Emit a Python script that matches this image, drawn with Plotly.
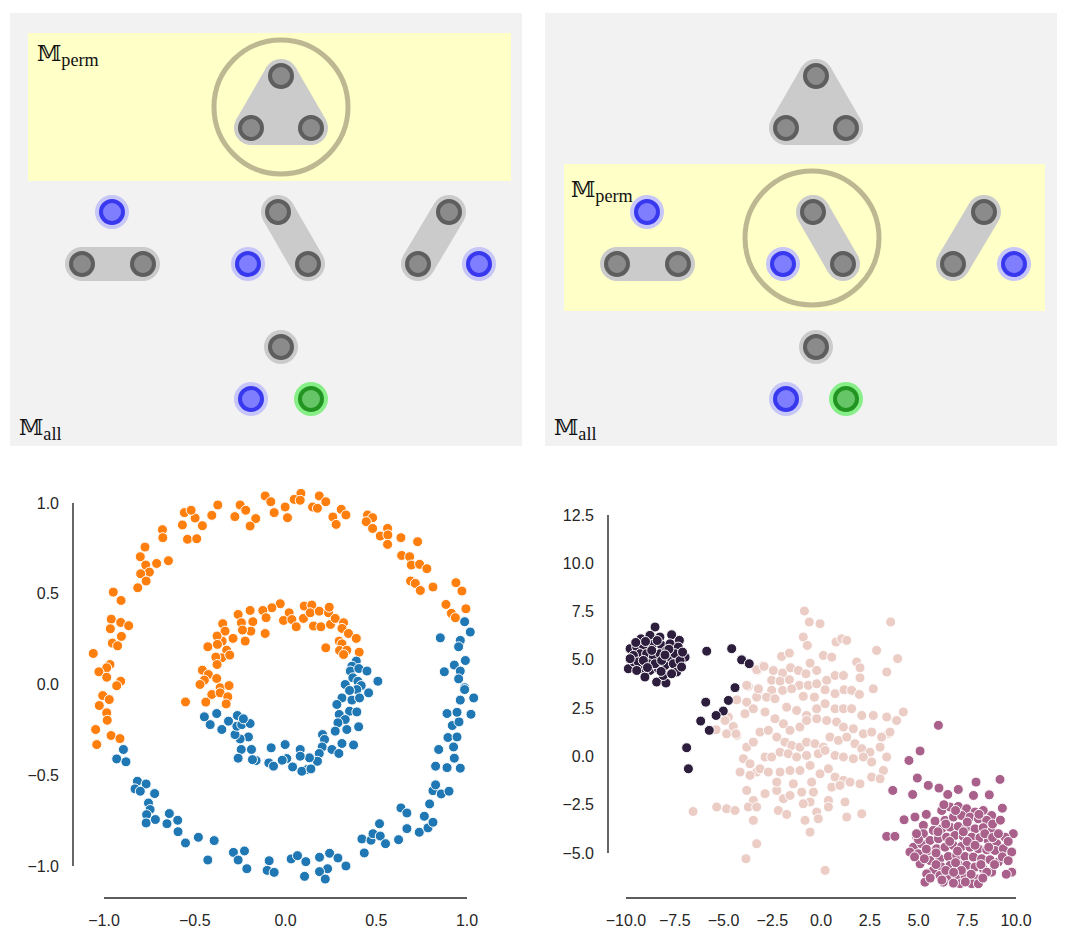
import plotly.graph_objects as go

# the page adds an 8 px body margin; the figure is sized so the page is exactly 1066 x 950
OFF = 8
W, H = 1066 - 2 * OFF, 950 - 2 * OFF

# ---------------- top diagrams (local units = pixels of a 512 x 433 panel) ----------------
gray_x = [271, 241, 301, 72, 133, 268, 298, 439, 408, 271]
gray_y = [63, 115, 115, 251, 251, 199, 251, 199, 251, 334]
groups = [[0, 1, 2], [3, 4], [5, 6], [7, 8], [9]]
blue_x = [102, 238, 469, 241]
blue_y = [199, 251, 251, 386]
green_x = [301]
green_y = [386]

# highlighted "perm" band and selection circle for each panel
perm_x0 = [18, 19]
perm_x1 = [501, 500]
perm_y0 = [20, 151]
perm_y1 = [168, 298]
circ_x = [271, 267]
circ_y = [94, 225]
circ_r = [67, 67]
perm_label_xy = [(25, 26), (24, 162)]
all_label_xy = [(7, 400), (7, 400)]

# ---------------- bottom-left: concentric circles ----------------
orange_x = [-0.112, -0.081, 0.085, 0.048, 0.081, 0.186, 0.222, 0.149, 0.176, -0.002, -0.0625, 0.011,
            -0.25, -0.219, -0.279, -0.164, -0.195, -0.373, -0.406, -0.458, -0.498, -0.557, -0.52, -0.568,
            -0.54, -0.489, -0.678, -0.676, -0.774, -0.8, -0.77, -0.71, -0.75, -0.798, -0.645, -0.768,
            -0.814, -0.949, -0.906, -0.96, -0.908, -0.864, -0.965, -0.904, -0.954, -0.925, -1.059, -0.967,
            -0.985, -1.028, -0.985, -0.908, -0.93, -1.007, -0.971, -1.026, -0.985, -0.982, -1.046, -0.961,
            -0.912, -1.04,
            0.307, 0.333, 0.261, 0.279, 0.452, 0.48, 0.445, 0.48, 0.5625, 0.522, 0.564, 0.5625, 0.636,
            0.728, 0.64, 0.684, 0.693, 0.739, 0.779, 0.689, 0.715, 0.743, 0.8125, 0.939, 0.972, 0.884,
            0.994, 0.914, 0.936,
            -0.029, -0.075, -0.125, -0.107, -0.195, -0.261, -0.243, -0.18, -0.191, -0.237, -0.222, -0.112,
            -0.346, -0.333, -0.289, -0.349, -0.377, -0.428, -0.375, -0.324, -0.351, -0.384, -0.307, -0.377,
            -0.458, -0.425, -0.447, -0.379, -0.471, -0.36, 0.02, -0.011, 0.035, 0.059, 0.099, 0.103, 0.145,
            0.136, 0.186, 0.237, 0.241, 0.154, 0.195, 0.248, 0.274, 0.32, 0.311, 0.347, 0.39, 0.296, 0.222,
            0.311, 0.298, 0.338, 0.406, 0.32, -0.311, -0.406, -0.36, -0.318, -0.439, -0.327, -0.551]
orange_y = [1.039, 1.007, 1.053, 1.02, 1.015, 1.039, 1.007, 0.978, 0.971, 0.978, 0.947, 0.919,
            0.989, 0.96, 0.925, 0.914, 0.873, 0.989, 0.932, 0.875, 0.917, 0.947, 0.96, 0.879,
            0.8, 0.803, 0.853, 0.809, 0.757, 0.704, 0.658, 0.667, 0.619, 0.61, 0.682, 0.57,
            0.533, 0.509, 0.463, 0.36, 0.342, 0.324, 0.307, 0.265, 0.228, 0.213, 0.171, 0.11,
            0.092, 0.07, 0.04, 0.018, -0.007, -0.061, -0.083, -0.116, -0.156, -0.197, -0.248, -0.281,
            -0.298, -0.331,
            0.965, 0.934, 0.923, 0.882, 0.934, 0.919, 0.897, 0.86, 0.86, 0.818, 0.824, 0.772, 0.809,
            0.787, 0.711, 0.704, 0.658, 0.662, 0.638, 0.57, 0.557, 0.518, 0.537, 0.561, 0.515, 0.441,
            0.417, 0.392, 0.368,
            0.445, 0.423, 0.408, 0.368, 0.408, 0.386, 0.34, 0.346, 0.294, 0.3, 0.239, 0.281,
            0.335, 0.294, 0.254, 0.239, 0.267, 0.208, 0.221, 0.189, 0.147, 0.151, 0.162, 0.11,
            0.079, 0.055, 0.024, 0.033, 0.0, -0.018, 0.395, 0.353, 0.358, 0.318, 0.364, 0.432, 0.4375,
            0.395, 0.404, 0.395, 0.426, 0.322, 0.318, 0.331, 0.364, 0.34, 0.309, 0.281, 0.254, 0.239, 0.202,
            0.224, 0.1875, 0.189, 0.178, 0.165, -0.006, -0.055, -0.046, -0.068, -0.097, -0.107, -0.096]

blue_pts_x = [0.987, 1.018, 0.853, 0.963, 0.954, 0.991, 0.93, 0.963, 0.875, 0.954, 0.987,
              0.39, 0.366, 0.357, 0.404, 0.449, 0.371, 0.399, 0.509, 0.329, 0.417,
              0.393, 0.458, 0.353, 0.311, 0.366, 0.408, 0.283, 0.296, 0.353, 0.393, 0.329, 0.289, 0.338,
              0.274, 0.403, 0.204, 0.215, 0.202, 0.256, 0.294, 0.311, 0.375, 0.186, 0.176, 0.132, 0.081,
              0.081, 0.118, 0.09, 0.14, 0.039, 0.007, -0.002, -0.018, -0.079, -0.092, -0.066, -0.162,
              -0.1875, -0.244, -0.261, -0.182, -0.204, -0.25, -0.278, -0.268, -0.241, -0.195, -0.265,
              -0.232, -0.314, -0.351, -0.379, -0.415, -0.447,
              -0.893, -0.93, -0.879, -0.816, -0.768, -0.829, -0.8, -0.721, -0.755, -0.746, -0.765, -0.717,
              -0.768, -0.64, -0.594, -0.653, -0.592, -0.551, -0.48, -0.393, -0.428, -0.287, -0.226, -0.261,
              -0.213, -0.09, -0.101, -0.0625, 0.031, 0.066, 0.112, 0.105, 0.1875, 0.243, 0.289, 0.232,
              0.1875, 0.219, 0.333, 0.421, 0.434, 0.471, 0.482, 0.518, 0.522, 0.551, 0.623, 0.636, 0.669,
              0.669, 0.737, 0.765, 0.785, 0.8125, 0.794, 0.8125, 0.827, 0.858, 0.901, 0.827, 0.89, 0.963,
              0.93, 0.844, 0.926, 0.895, 0.945, 0.919, 0.956, 0.89, 0.945, 1.022, 0.963, 1.037, 0.987]
blue_pts_y = [0.346, 0.289, 0.257, 0.243, 0.208, 0.132, 0.107, 0.074, 0.07, 0.031, -0.018,
              0.129, 0.101, 0.074, 0.088, 0.074, 0.037, 0.018, 0.018, 0.0, -0.006,
              -0.028, -0.046, -0.033, -0.074, -0.086, -0.074, -0.11, -0.165, -0.147, -0.151, -0.193,
              -0.211, -0.248, -0.257, -0.233, -0.276, -0.303, -0.344, -0.358, -0.38, -0.325, -0.333,
              -0.38, -0.423, -0.404, -0.358, -0.395, -0.469, -0.478, -0.465, -0.454, -0.408, -0.331,
              -0.417, -0.349, -0.432, -0.45, -0.419, -0.358, -0.358, -0.406, -0.414, -0.289, -0.3,
              -0.276, -0.23, -0.221, -0.215, -0.171, -0.189, -0.202, -0.248, -0.16, -0.221, -0.178,
              -0.358, -0.41, -0.426, -0.533, -0.548, -0.575, -0.588, -0.601, -0.653, -0.689, -0.717, -0.744,
              -0.763, -0.711, -0.748, -0.767, -0.811, -0.873, -0.842, -0.86, -0.967, -0.925, -0.917, -0.967,
              -1.015, -0.971, -1.024, -1.035, -0.961, -0.943, -0.976, -1.057, -0.952, -0.93, -0.956, -1.015,
              -1.031, -1.072, -1.0, -0.851, -0.928, -0.858, -0.822, -0.767, -0.835, -0.877, -0.855, -0.68,
              -0.708, -0.794, -0.814, -0.726, -0.79, -0.759, -0.658, -0.585, -0.553, -0.603, -0.588, -0.45,
              -0.458, -0.461, -0.406, -0.358, -0.344, -0.292, -0.289, -0.226, -0.206, -0.16, -0.153, -0.164,
              -0.086, -0.074, -0.028]

# ---------------- bottom-right: three blobs ----------------
dark_x = [-8.51, -9.23, -8.77, -8.26, -7.66, -7.26, -9.79, -9.45, -9.11, -8.63, -8.17, -7.74, -7.32,
          -6.97, -9.88, -9.59, -9.28, -8.94, -8.6, -8.26, -7.83, -7.49, -9.62, -9.2, -8.77, -8.34, -8.0,
          -7.57, -7.23, -7.4, -8.43, -7.95, -8.09, -8.85, -8.51, -9.37, -7.66, -9.79, -9.11, -8.17, -7.15,
          -8.68, -7.91, -9.03, -9.45, -8.4, -9.0, -7.8, -8.2, -9.5, -7.1, -8.9, -8.0,
          -5.86, -4.58, -4.07, -3.68, -4.41, -4.75, -5.91, -5.01, -5.38, -6.17, -5.73, -6.89, -6.8]
dark_y = [6.7, 6.09, 6.27, 6.18, 6.3, 6.01, 5.58, 5.66, 5.75, 5.8, 5.75, 5.83, 5.66,
          5.14, 4.54, 4.89, 5.32, 5.32, 5.14, 5.32, 5.14, 5.32, 5.23, 4.54, 4.45, 4.54, 4.71,
          4.8, 4.97, 4.37, 3.85, 3.8, 4.19, 4.8, 4.8, 4.89, 4.28, 5.06, 4.97, 4.97, 4.63,
          5.49, 5.49, 4.11, 4.45, 6.0, 5.95, 5.55, 4.4, 5.9, 5.4, 4.6, 5.25,
          5.45, 5.58, 5.0, 4.8, 3.56, 2.9, 2.81, 2.35, 2.12, 1.83, 1.35, 0.45, -0.64]

light_x = [-0.85, -0.6, -0.05, 3.57, -0.91, -0.7, 0.77, 1.06, 1.32, 2.85, 3.93, -2.02, -1.62, 0.12, 0.55,
           -0.56, 1.83, 2.0, 3.37, -2.96, -3.26, -2.44, -1.97, -1.56, -1.16, -0.77, -0.22, 0.29, 0.72, 1.15,
           2.0, -2.53, -2.1, -1.62, -1.11, -0.65, -0.22, -3.73, -3.21, -2.53, -1.97, -1.5, -0.91, -0.34, 0.21,
           0.72, 1.18, 1.57, 1.97, 2.68, -3.81, -3.3, -2.79, -2.36, -1.76, -1.25, -0.74, -0.22, 0.21, 0.72,
           1.15, 1.57, 2.09, 2.68, 3.37, 3.88, 4.22, 3.45, -4.75, -4.5, -3.47, -2.87, -2.36, -1.93, -1.59,
           -1.08, -0.74, -0.22, 0.29, 0.8, 1.15, 1.66, 2.17, 2.6, 3.11, 3.54, -4.84, -4.32, -3.81, -3.47,
           -3.13, -2.7, -2.27, -1.85, -1.5, -1.08, -0.74, -0.31, 0.12, 0.46, 0.89, 1.32, 1.74, 2.09, 2.51,
           3.03, 3.37, -3.98, -3.64, -3.3, -2.87, -2.53, -2.1, -1.68, -1.25, -0.74, -0.14, 0.21, 0.72, 1.15,
           1.66, 2.17, 2.6, 3.2, -4.15, -3.64, -3.13, -2.7, -2.1, -1.59, -1.08, -0.56, -0.05, 0.38, 0.72,
           1.15, 1.49, 2.0, 2.6, 3.03, -3.81, -3.47, -2.87, -2.27, -1.93, -1.59, -0.99, -0.56, -0.39, 0.38,
           0.55, 0.97, 1.23, -5.35, -4.84, -4.41, -3.73, -3.3, -2.19, -1.76, -0.91, -0.22, 0.38, 1.32, 2.09,
           -0.82, -0.14, -3.47, -0.56, -3.3, -3.85, 0.21, -1.42, -2.27, -0.48,
           -3.81, -3.21, -4.32, -3.9, -4.92, -5.38, -4.36, -3.3, -2.92, -6.56]
light_y = [7.53, 6.96, 6.87, 6.96, 6.18, 5.75, 5.92, 6.09, 6.01, 5.49, 5.06, 5.18, 5.35, 5.23, 5.14,
           4.83, 4.89, 4.59, 4.37, 4.71, 4.45, 4.45, 4.32, 4.59, 4.45, 4.28, 4.45, 3.94, 4.19, 4.19,
           4.07, 3.94, 3.9, 3.97, 3.68, 3.68, 3.76, 3.63, 3.42, 3.42, 3.42, 3.5, 3.11, 3.07, 3.45,
           3.25, 3.45, 3.42, 3.21, 3.5, 2.81, 3.07, 3.07, 2.99, 2.55, 2.38, 2.12, 2.47, 2.73, 2.47,
           2.47, 2.47, 2.12, 2.12, 2.04, 1.86, 2.3, 1.17, 2.04, 1.55, 2.47, 2.3, 1.95, 1.69, 1.35,
           1.52, 1.86, 1.95, 1.86, 1.78, 1.52, 1.43, 1.17, 1.26, 1.0, 1.26, 1.17, 1.09, 0.48, 0.74,
           1.26, 1.35, 1.0, 0.74, 0.57, 0.48, 0.74, 0.66, 0.48, 1.0, 0.83, 1.0, 0.66, 0.4, 0.22,
           0.48, -0.03, -0.12, -0.38, -0.81, -0.03, -0.03, 0.22, 0.14, -0.03, 0.05, 0.14, 0.31, 0.05, -0.03,
           -0.12, -0.03, -0.29, -0.73, -0.81, -0.98, -0.64, -0.81, -0.81, -0.73, -0.73, -0.47, -0.9, -0.64, -1.07,
           -1.24, -1.33, -1.42, -1.07, -1.16, -1.76, -2.28, -1.93, -1.76, -2.19, -2.02, -1.85, -2.36, -1.85, -2.28,
           -1.59, -1.5, -2.36, -2.62, -2.71, -2.8, -2.62, -2.62, -2.8, -3.0, -2.45, -2.88, -2.62, -3.14, -2.97,
           -3.31, -3.23, -3.31, -3.92, -4.52, -5.3, -5.9, -1.42, -1.33, -1.33,
           3.68, 3.5, 2.93, 2.21, 1.86, 1.38, 1.17, 4.49, 4.66, -2.85]

mid_x = [6.02, 5.08, 4.51, 4.94, 3.68, 4.7, 5.5, 6.05, 6.5, 7.04, 7.95, 7.82, 8.63, 9.18, 9.3, 4.26, 4.82,
         3.37, 3.79,
         6.19, 6.62, 7.04, 7.47, 7.9, 8.32, 8.75, 5.25, 5.85, 6.36, 6.79, 7.21, 7.64, 8.07, 8.5, 4.91, 5.25,
         5.76, 6.19, 6.62, 7.04, 7.47, 7.9, 8.32, 8.75, 9.86, 9.44, 4.74, 5.16, 5.59, 6.02, 6.44, 6.87, 7.3,
         7.73, 8.15, 8.58, 9.01, 4.56, 4.99, 5.5, 5.93, 6.36, 6.79, 7.21, 7.64, 8.07, 8.5, 8.92, 9.35, 9.78,
         5.08, 5.59, 6.1, 6.53, 6.96, 7.38, 7.81, 8.24, 8.67, 9.09, 5.76, 6.19, 6.62, 7.04, 7.47, 7.9, 8.32,
         8.75, 5.42, 5.33, 6.1, 6.53, 6.96, 7.38, 7.98, 8.5, 7.13, 7.73, 8.07, 9.78, 6.27, 6.79,
         5.4, 6.0, 6.3, 6.9, 7.5, 8.1, 8.8, 9.2, 9.6, 5.0, 5.4, 5.9, 6.6, 7.0, 7.5, 7.9, 8.4, 8.8, 9.3, 9.6,
         4.8, 5.3, 5.9, 6.4, 7.2, 7.7, 8.2, 8.9, 9.5, 6.2, 6.8, 7.4, 8.3, 5.6, 4.9, 6.4, 7.3, 8.6, 9.1, 6.9]
mid_y = [1.61, 0.28, -0.21, -1.12, -1.76, -1.97, -1.5, -1.64, -1.97, -1.71, -1.33, -2.02, -1.99, -1.19,
         -2.68, -3.28, -3.14, -4.14, -4.14,
         -2.8, -2.62, -2.59, -2.71, -2.88, -2.8, -3.06, -3.57, -3.35, -3.31, -3.14, -3.06, -3.14, -3.23,
         -3.31, -4.18, -4.0, -3.83, -3.75, -3.66, -3.63, -3.66, -3.75, -3.69, -3.87, -4.0, -4.18, -4.7,
         -4.52, -4.35, -4.26, -4.18, -4.09, -4.14, -4.18, -4.21, -4.35, -4.52, -4.95, -5.04, -4.87, -4.78,
         -4.7, -4.61, -4.66, -4.7, -4.78, -4.83, -4.87, -4.78, -4.95, -5.56, -5.39, -5.3, -5.18, -5.13,
         -5.18, -5.21, -5.3, -5.35, -5.47, -5.9, -5.73, -5.64, -5.59, -5.64, -5.73, -5.82, -5.99, -6.08,
         -6.51, -6.16, -6.34, -6.25, -6.16, -6.34, -5.99, -6.59, -6.59, -6.59, -5.99, -6.51, -6.56,
         -3.0, -3.9, -2.5, -2.8, -3.4, -3.0, -3.5, -3.3, -4.4, -4.3, -4.8, -5.0, -4.4, -4.9, -4.4, -4.6,
         -4.0, -4.2, -5.2, -5.4, -5.2, -5.3, -5.6, -5.9, -5.9, -6.1, -5.6, -5.6, -6.1, -6.4, -6.0, -6.5,
         -6.3, -6.3, -4.0, -3.5, -3.9, -4.7, -4.0, -5.5]

circ_ticks = [-1.0, -0.5, 0.0, 0.5, 1.0]
blob_xticks = [-10.0, -7.5, -5.0, -2.5, 0.0, 2.5, 5.0, 7.5, 10.0]
blob_yticks = [-5.0, -2.5, 0.0, 2.5, 5.0, 7.5, 10.0, 12.5]

# ---------------- styles ----------------
PANEL_BG = "#f2f2f2"
PERM_BG = "#ffffc8"
HULL = "#cbcbcb"
NODE_FILL = "#8b8b8b"
NODE_EDGE = "#5e5e5e"
BLUE_FILL = "#7e7eff"
BLUE_EDGE = "#3838ee"
BLUE_HALO = "#c6c6f8"
GREEN_FILL = "#66c566"
GREEN_EDGE = "#229422"
GREEN_HALO = "#88ee88"
RING = "#bdb892"
AXC = "#262626"
TICKFONT = dict(family="Liberation Sans, Arial, sans-serif", size=16, color=AXC)
LABELFONT = dict(family="Liberation Serif, DejaVu Serif, serif", size=26, color="#111111")


def dx(a, b):
    return [(a - OFF) / W, (b - OFF) / W]


def dy(a, b):
    return [1 - (b - OFF) / H, 1 - (a - OFF) / H]


def px(a):
    return (a - OFF) / W


def py(a):
    return 1 - (a - OFF) / H


def span_domain(p_lo, p_hi, v_lo, v_hi, r_lo, r_hi):
    k = (p_hi - p_lo) / (v_hi - v_lo)
    return p_lo - (v_lo - r_lo) * k, p_hi + (r_hi - v_hi) * k


fig = go.Figure()

shapes = []
annotations = []
for p, (xa, ya) in enumerate([("x", "y"), ("x2", "y2")]):
    shapes.append(dict(type="rect", xref=f"{xa} domain", yref=f"{ya} domain", x0=0, x1=1, y0=0, y1=1,
                       fillcolor=PANEL_BG, line=dict(width=0), layer="below"))
    shapes.append(dict(type="rect", xref=xa, yref=ya, x0=perm_x0[p], x1=perm_x1[p],
                       y0=perm_y0[p], y1=perm_y1[p], fillcolor=PERM_BG, line=dict(width=0), layer="below"))

    sx, sy = [], []
    for g in groups:
        if len(g) < 2:
            continue
        idx = g + [g[0]] if len(g) > 2 else g
        for i in range(len(idx) - 1):
            sx += [gray_x[idx[i]], gray_x[idx[i + 1]], None]
            sy += [gray_y[idx[i]], gray_y[idx[i + 1]], None]
    tri = [g for g in groups if len(g) == 3][0]
    common = dict(xaxis=xa, yaxis=ya, hoverinfo="skip", showlegend=False)
    fig.add_trace(go.Scatter(x=[gray_x[i] for i in tri], y=[gray_y[i] for i in tri], mode="lines",
                             fill="toself", fillcolor=HULL, line=dict(width=0, color=HULL), **common))
    fig.add_trace(go.Scatter(x=sx, y=sy, mode="lines", line=dict(width=34, color=HULL), **common))
    fig.add_trace(go.Scatter(x=gray_x, y=gray_y, mode="markers",
                             marker=dict(size=34, color=HULL, line=dict(width=0)), **common))
    fig.add_trace(go.Scatter(x=blue_x, y=blue_y, mode="markers",
                             marker=dict(size=34, color=BLUE_HALO, line=dict(width=0)), **common))
    fig.add_trace(go.Scatter(x=green_x, y=green_y, mode="markers",
                             marker=dict(size=34, color=GREEN_HALO, line=dict(width=0)), **common))
    fig.add_trace(go.Scatter(x=gray_x, y=gray_y, mode="markers",
                             marker=dict(size=22, color=NODE_FILL, line=dict(width=4, color=NODE_EDGE)),
                             **common))
    fig.add_trace(go.Scatter(x=blue_x, y=blue_y, mode="markers",
                             marker=dict(size=22, color=BLUE_FILL, line=dict(width=4, color=BLUE_EDGE)),
                             **common))
    fig.add_trace(go.Scatter(x=green_x, y=green_y, mode="markers",
                             marker=dict(size=22, color=GREEN_FILL, line=dict(width=4, color=GREEN_EDGE)),
                             **common))
    fig.add_trace(go.Scatter(x=[circ_x[p]], y=[circ_y[p]], mode="markers",
                             marker=dict(size=2 * circ_r[p], color="rgba(0,0,0,0)",
                                         line=dict(width=5, color=RING)), **common))
    annotations.append(dict(xref=xa, yref=ya, x=perm_label_xy[p][0], y=perm_label_xy[p][1],
                            text="<span style='font-size:22px'>𝕄</span><sub>perm</sub>", showarrow=False,
                            xanchor="left", yanchor="top", font=LABELFONT))
    annotations.append(dict(xref=xa, yref=ya, x=all_label_xy[p][0], y=all_label_xy[p][1],
                            text="<span style='font-size:22px'>𝕄</span><sub>all</sub>", showarrow=False,
                            xanchor="left", yanchor="top", font=LABELFONT))

# bottom-left scatter
mk = dict(size=10, line=dict(width=1, color="white"))
fig.add_trace(go.Scatter(x=orange_x, y=orange_y, mode="markers", marker=dict(color="#ff7f0e", **mk),
                         xaxis="x3", yaxis="y3", cliponaxis=False, showlegend=False))
fig.add_trace(go.Scatter(x=blue_pts_x, y=blue_pts_y, mode="markers", marker=dict(color="#1f77b4", **mk),
                         xaxis="x3", yaxis="y3", cliponaxis=False, showlegend=False))

# bottom-right scatter
fig.add_trace(go.Scatter(x=light_x, y=light_y, mode="markers", marker=dict(color="#ebcdc6", **mk),
                         xaxis="x4", yaxis="y4", cliponaxis=False, showlegend=False))
fig.add_trace(go.Scatter(x=mid_x, y=mid_y, mode="markers", marker=dict(color="#a9618c", **mk),
                         xaxis="x4", yaxis="y4", cliponaxis=False, showlegend=False))
fig.add_trace(go.Scatter(x=dark_x, y=dark_y, mode="markers", marker=dict(color="#2d1e3e", **mk),
                         xaxis="x4", yaxis="y4", cliponaxis=False, showlegend=False))

# trimmed (seaborn despine trim) axis spines, spanning only the tick range
XL_POS, YL_POS = 898, 73
XR_POS, YR_POS = 898, 608
spine = dict(color=AXC, width=1.4)
shapes += [
    dict(type="line", xref="x3", yref="paper", x0=circ_ticks[0], x1=circ_ticks[-1],
         y0=py(XL_POS), y1=py(XL_POS), line=spine),
    dict(type="line", xref="paper", yref="y3", x0=px(YL_POS), x1=px(YL_POS),
         y0=circ_ticks[0], y1=circ_ticks[-1], line=spine),
    dict(type="line", xref="x4", yref="paper", x0=blob_xticks[0], x1=blob_xticks[-1],
         y0=py(XR_POS), y1=py(XR_POS), line=spine),
    dict(type="line", xref="paper", yref="y4", x0=px(YR_POS), x1=px(YR_POS),
         y0=blob_yticks[0], y1=blob_yticks[-1], line=spine),
]

x3r = [-1.2, 1.2]
y3r = [-1.2, 1.2]
x4r = [-11, 11]
y4r = [-8, 13.5]
x3d = span_domain(104, 467, -1, 1, *x3r)
y3d = span_domain(503, 866, -1, 1, -y3r[1], -y3r[0])
x4d = span_domain(626, 1016, -10, 10, *x4r)
y4d = span_domain(515, 853, -12.5, 5, -y4r[1], -y4r[0])

hidden = dict(visible=False, fixedrange=True, showgrid=False, zeroline=False, automargin=False)
axis_common = dict(showline=False, ticks="", showgrid=False, zeroline=False, automargin=False,
                   tickfont=TICKFONT, tickformat=".1f", fixedrange=True, anchor="free")

fig.update_layout(
    width=W, height=H, autosize=False,
    margin=dict(l=0, r=0, t=0, b=0, pad=0),
    paper_bgcolor="white", plot_bgcolor="white",
    shapes=shapes, annotations=annotations,
    xaxis=dict(domain=dx(10, 522), range=[0, 512], **hidden),
    yaxis=dict(domain=dy(13, 446), range=[433, 0], **hidden),
    xaxis2=dict(domain=dx(545, 1057), range=[0, 512], **hidden),
    yaxis2=dict(domain=dy(13, 446), range=[433, 0], **hidden),
    xaxis3=dict(domain=dx(*x3d), range=x3r, tickvals=circ_ticks, position=py(XL_POS),
                ticklabelstandoff=11, **axis_common),
    yaxis3=dict(domain=dy(*y3d), range=y3r, tickvals=circ_ticks, position=px(YL_POS),
                ticklabelstandoff=14, **axis_common),
    xaxis4=dict(domain=dx(*x4d), range=x4r, tickvals=blob_xticks, position=py(XR_POS),
                ticklabelstandoff=11, **axis_common),
    yaxis4=dict(domain=dy(*y4d), range=y4r, tickvals=blob_yticks, position=px(YR_POS),
                ticklabelstandoff=14, **axis_common),
)

fig.write_html("out.html")
